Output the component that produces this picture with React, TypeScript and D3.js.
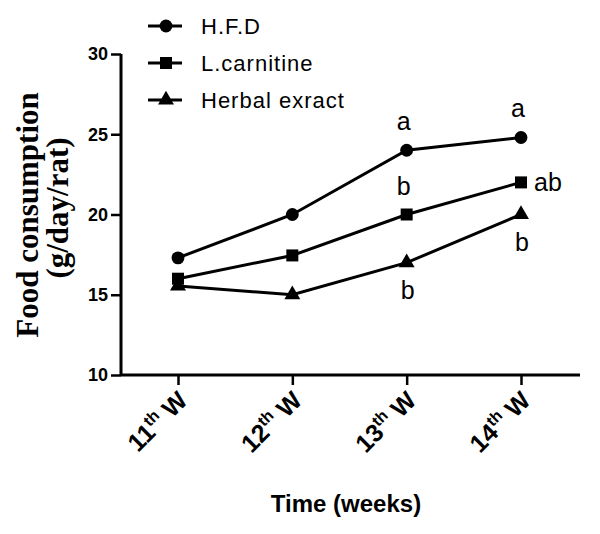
import React, { useEffect, useRef } from "react";
import * as d3 from "d3";

// weeks on the x axis
const weeks = ["11", "12", "13", "14"];
const yTicks = [10, 15, 20, 25, 30];

// food consumption, g/day/rat
const hfd = [17.3, 20, 24, 24.8];
const carnitine = [16, 17.45, 20, 22];
const herbal = [15.55, 15, 17, 20];

const seriesNames = ["H.F.D", "L.carnitine", "Herbal exract"];

// significance letters: series index, week index, label, where it sits
const letters = [
  { s: 0, w: 2, label: "a", at: "above" },
  { s: 0, w: 3, label: "a", at: "above" },
  { s: 1, w: 2, label: "b", at: "above" },
  { s: 1, w: 3, label: "ab", at: "right" },
  { s: 2, w: 2, label: "b", at: "below" },
  { s: 2, w: 3, label: "b", at: "below" },
];

const SANS = "Arial, 'Liberation Sans', sans-serif";

const App = () => {
  const svgRef = useRef(null);

  useEffect(() => {
    const svg = d3.select(svgRef.current);
    svg.selectAll("*").remove();

    const series = [hfd, carnitine, herbal];
    const symbols = [d3.symbolCircle, d3.symbolSquare, d3.symbolTriangle];
    const sizes = [130, 144, 110];

    const x = d3.scalePoint().domain(weeks).range([178, 521]);
    const y = d3.scaleLinear().domain([10, 30]).range([375, 54]);

    // y axis
    const yAxis = d3.axisLeft(y).tickValues(yTicks).tickSize(10).tickPadding(3);
    const gy = svg
      .append("g")
      .attr("transform", "translate(121,0)")
      .call(yAxis)
      .attr("font-family", SANS);
    gy.select(".domain").attr("stroke-width", 3).attr("d", "M0,375V54");
    gy.selectAll(".tick line").attr("stroke-width", 2.5);
    gy.selectAll(".tick text")
      .style("font-weight", "bold")
      .style("font-size", "18px")
      .attr("fill", "#000");

    // x axis
    const xAxis = d3.axisBottom(x).tickSize(10).tickFormat(() => "");
    const gx = svg.append("g").attr("transform", "translate(0,375)").call(xAxis);
    gx.select(".domain").attr("stroke-width", 3).attr("d", "M121,0H580");
    gx.selectAll(".tick line").attr("stroke-width", 2.5);

    // rotated week labels with superscript
    weeks.forEach((w) => {
      const t = svg
        .append("text")
        .attr("transform", `translate(${x(w) + 11},402) rotate(-45)`)
        .attr("text-anchor", "end")
        .style("font-family", SANS)
        .style("font-weight", "bold")
        .style("font-size", "25px");
      t.append("tspan").text(w);
      t.append("tspan").attr("dy", -10).style("font-size", "16px").text("th");
      t.append("tspan").attr("dy", 10).text("\u00a0W");
    });

    // axis titles
    svg
      .append("text")
      .attr("x", 346)
      .attr("y", 512)
      .attr("text-anchor", "middle")
      .style("font-family", SANS)
      .style("font-weight", "bold")
      .style("font-size", "24px")
      .text("Time (weeks)");

    const yt = svg
      .append("g")
      .style("font-family", "'Times New Roman', 'Liberation Serif', serif")
      .style("font-weight", "bold")
      .style("font-size", "31px")
      .attr("text-anchor", "middle");
    yt.append("text")
      .attr("transform", "translate(38,215) rotate(-90)")
      .text("Food consumption");
    yt.append("text")
      .attr("transform", "translate(68,208) rotate(-90)")
      .text("(g/day/rat)");

    // lines and markers
    const line = d3
      .line()
      .x((d, i) => x(weeks[i]))
      .y((d) => y(d));

    series.forEach((vals, si) => {
      svg
        .append("path")
        .datum(vals)
        .attr("d", line)
        .attr("fill", "none")
        .attr("stroke", "#000")
        .attr("stroke-width", 3);
      svg
        .selectAll(".m" + si)
        .data(vals)
        .join("path")
        .attr("class", "m" + si)
        .attr("transform", (d, i) => `translate(${x(weeks[i])},${y(d)})`)
        .attr("d", d3.symbol().type(symbols[si]).size(sizes[si]))
        .attr("fill", "#000");
    });

    // letters
    const offsets = {
      above: { dx: -3, dy: -20, anchor: "middle" },
      right: { dx: 13, dy: 9, anchor: "start" },
      below: { dx: 1, dy: 36, anchor: "middle" },
    };
    letters.forEach((l) => {
      const o = offsets[l.at];
      svg
        .append("text")
        .attr("x", x(weeks[l.w]) + o.dx)
        .attr("y", y(series[l.s][l.w]) + o.dy)
        .attr("text-anchor", o.anchor)
        .style("font-family", SANS)
        .style("font-size", "25px")
        .text(l.label);
    });

    // legend
    const lg = svg.append("g");
    seriesNames.forEach((name, i) => {
      const ly = 26 + i * 37;
      lg.append("line")
        .attr("x1", 148)
        .attr("x2", 182)
        .attr("y1", ly)
        .attr("y2", ly)
        .attr("stroke", "#000")
        .attr("stroke-width", 3);
      lg.append("path")
        .attr("transform", `translate(166,${ly})`)
        .attr("d", d3.symbol().type(symbols[i]).size(sizes[i]))
        .attr("fill", "#000");
      lg.append("text")
        .attr("x", 201)
        .attr("y", ly + 8)
        .style("font-family", SANS)
        .style("font-size", "22px")
        .attr("letter-spacing", 1)
        .text(name);
    });
  });

  return (
    <svg
      ref={svgRef}
      width={600}
      height={534}
      style={{ position: "absolute", left: 0, top: 0, background: "#fff" }}
    />
  );
};

export default App;
